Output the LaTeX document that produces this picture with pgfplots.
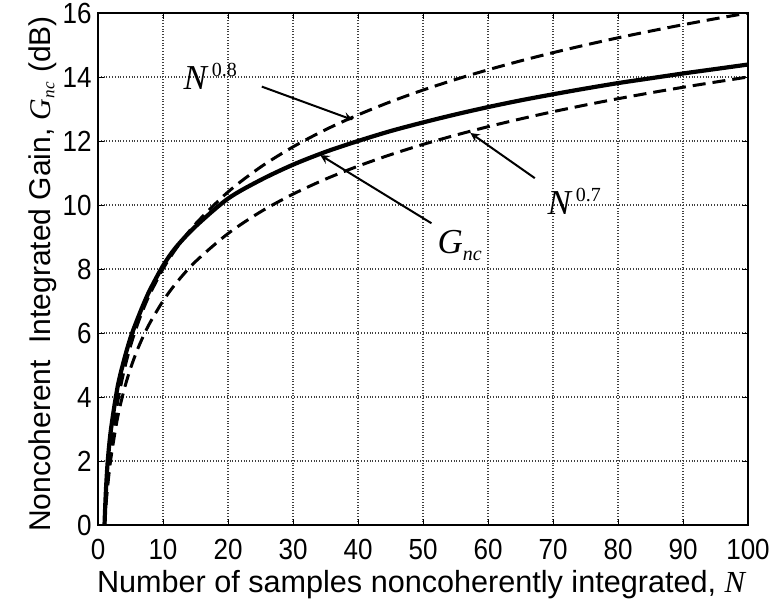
\documentclass[border=0pt]{standalone}
\usepackage{fontspec}
\setmainfont{Liberation Sans}
\newfontfamily\tms{Liberation Serif}
\usepackage{graphicx}
\usepackage{pgfplots}
\pgfplotsset{compat=1.18}
\begin{document}
\begin{tikzpicture}
\useasboundingbox (-49pt,-38.5pt) rectangle (340.5pt,262.5pt);
\begin{axis}[
  at={(0,0)}, anchor=south west,
  scale only axis,
  width=325pt, height=256pt,
  xmin=0, xmax=100, ymin=0, ymax=16,
  xtick={0,10,...,100}, ytick={0,2,...,16},
  /pgf/number format/assume math mode=true,
  xticklabel={\scalebox{1}[1.12]{\pgfmathprintnumber{\tick}}},
  yticklabel={\scalebox{1}[1.12]{\pgfmathprintnumber{\tick}}},
  tick label style={font=\fontsize{13}{15}\selectfont},
  xticklabel style={anchor=base, yshift=-17pt},
  yticklabel style={anchor=east, xshift=-1pt, inner sep=2pt},
  xlabel={Number of samples noncoherently integrated, {\tms\itshape N}},
  ylabel={Noncoherent\ \ Integrated Gain, {\tms\itshape G\textsubscript{\fontsize{8.5}{10}\selectfont nc}} (dB)},
  xlabel style={font=\fontsize{15.3}{17}\selectfont, at={(axis description cs:0.497,-0.131)}, anchor=base},
  ylabel style={font=\fontsize{15}{17}\selectfont, at={(axis description cs:-0.0738,0.49)}, anchor=base},
  grid=major,
  major grid style={black!75, densely dotted, line width=0.6pt},
  axis line style={black, line width=0.7pt},
  tick style={black, line width=0.5pt},
  major tick length=3pt,
  tick align=inside,
  clip=true,
]
\addplot[black, line width=1.5pt, dash pattern=on 6.5pt off 3.5pt, smooth] coordinates {
(1,0)(1.2,0.633)(1.5,1.409)(2,2.408)(3,3.817)(4,4.816)(5,5.592)(6,6.225)(7,6.761)(8,7.225)(10,8)(12,8.633)(15,9.409)(20,10.408)(25,11.184)(30,11.817)(35,12.353)(40,12.816)(45,13.226)(50,13.592)(55,13.923)(60,14.225)(65,14.503)(70,14.761)(75,15.000)(80,15.225)(85,15.435)(90,15.634)(95,15.822)(100,16)
};
\addplot[black, line width=1.5pt, dash pattern=on 6.5pt off 3.5pt, smooth] coordinates {
(1,0)(1.2,0.554)(1.5,1.233)(2,2.107)(3,3.340)(4,4.214)(5,4.893)(6,5.447)(7,5.916)(8,6.322)(10,7)(12,7.554)(15,8.233)(20,9.107)(25,9.786)(30,10.340)(35,10.809)(40,11.214)(45,11.572)(50,11.893)(55,12.182)(60,12.447)(65,12.690)(70,12.916)(75,13.125)(80,13.322)(85,13.506)(90,13.679)(95,13.842)(100,14)
};
\addplot[black, line width=2.1pt, smooth] coordinates {
(1,0)(1.2,1.0)(1.5,2.0)(2,3.0)(3,4.3)(4,5.15)(5,5.85)(6,6.4)(7,6.9)(8,7.35)(10,8.1)(12,8.68)(15,9.33)(20,10.2)(25,10.78)(30,11.26)(35,11.66)(40,12.0)(45,12.31)(50,12.58)(55,12.83)(60,13.06)(65,13.27)(70,13.46)(75,13.64)(80,13.81)(85,13.96)(90,14.11)(95,14.25)(100,14.39)
};
% annotations
\node[font=\tms\fontsize{17.5}{18}\selectfont, inner sep=0pt, anchor=base west] at (axis cs:13.1,13.6) {\textit{N}\raisebox{0.85ex}{\fontsize{10}{11}\selectfont\,0.8}};
\draw[black, line width=1pt, -stealth] (axis cs:25.2,13.7) -- (axis cs:39.2,12.66);
\node[font=\tms\fontsize{17.5}{18}\selectfont, inner sep=0pt, anchor=base west] at (axis cs:52.2,8.5) {\textit{G}\raisebox{-0.45ex}{\fontsize{10}{11}\selectfont\textit{nc}}};
\draw[black, line width=1pt, -stealth] (axis cs:51.3,9.43) -- (axis cs:34.2,11.56);
\node[font=\tms\fontsize{17.5}{18}\selectfont, inner sep=0pt, anchor=base west] at (axis cs:69.1,9.69) {\textit{N}\raisebox{0.85ex}{\fontsize{10}{11}\selectfont\,0.7}};
\draw[black, line width=1pt, -stealth] (axis cs:67.2,10.84) -- (axis cs:57.3,12.25);
\end{axis}
\end{tikzpicture}
\end{document}
